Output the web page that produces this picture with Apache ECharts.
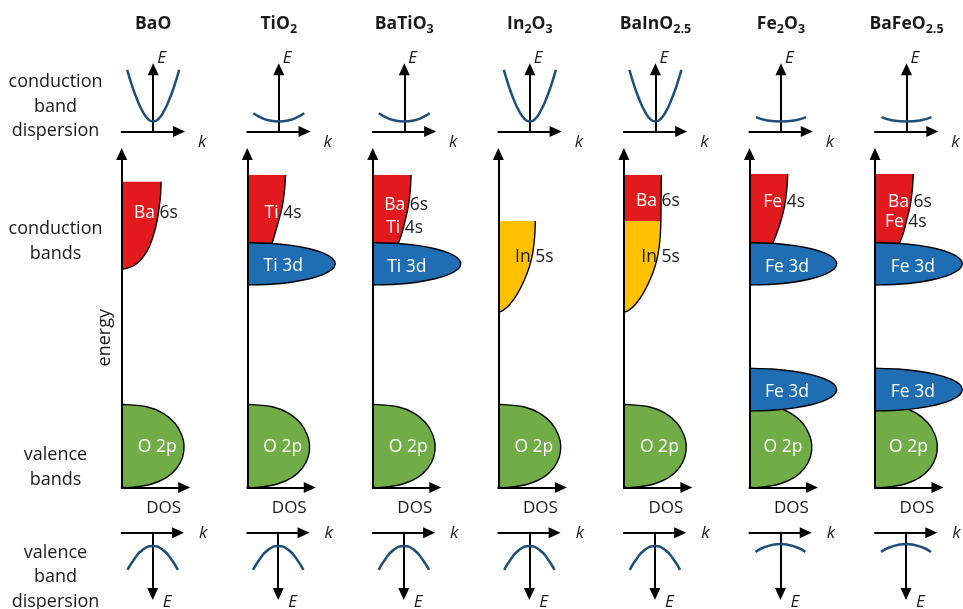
<!DOCTYPE html>
<html>
<head>
<meta charset="utf-8">
<script src="https://cdn.jsdelivr.net/npm/echarts@6/dist/echarts.min.js"></script>
<style>
html,body{margin:0;padding:0;background:#ffffff;}
#chart{width:963px;height:609px;}
</style>
</head>
<body>
<div id="chart"></div>
<script>
// ---------------- data ----------------
const compounds = ['BaO', 'TiO_{2}', 'BaTiO_{3}', 'In_{2}O_{3}', 'BaInO_{2.5}', 'Fe_{2}O_{3}', 'BaFeO_{2.5}'];
const rowLabels = ['conduction\nband\ndispersion', 'conduction\nbands', 'valence\nbands', 'valence\nband\ndispersion'];

// conduction band dispersion, [k, E]
const cbSteep = [[-1, 2.37], [-0.8, 1.72], [-0.6, 1.18], [-0.4, 0.76], [-0.2, 0.48], [0, 0.38], [0.2, 0.48], [0.4, 0.76], [0.6, 1.18], [0.8, 1.72], [1, 2.37]];
const cbFlat = [[-0.98, 0.70], [-0.7, 0.54], [-0.4, 0.43], [0, 0.38], [0.4, 0.43], [0.7, 0.54], [0.98, 0.70]];
const cbFlatter = [[-0.96, 0.55], [-0.6, 0.44], [0, 0.38], [0.6, 0.44], [0.96, 0.55]];
// valence band dispersion, [k, E] (E axis points downwards)
const vbSteep = [[-0.97, 1.43], [-0.7, 1.0], [-0.4, 0.67], [0, 0.51], [0.4, 0.67], [0.7, 1.0], [0.97, 1.43]];
const vbFlat = [[-0.96, 0.74], [-0.6, 0.55], [0, 0.43], [0.6, 0.55], [0.96, 0.74]];
const cbCurveOf = [cbSteep, cbFlat, cbFlat, cbSteep, cbSteep, cbFlatter, cbFlatter];
const vbCurveOf = [vbSteep, vbSteep, vbSteep, vbSteep, vbSteep, vbFlat, vbFlat];

// density of states outlines, [DOS, energy]
const o2p = [[0, 8.32], [2.5, 8.08], [4.16, 7.42], [5.33, 6.42], [6.0, 5.25], [6.23, 4.25], [6.1, 3.08], [5.5, 1.92], [4.5, 1.02], [3.0, 0.35], [1.16, 0.02], [0, 0]];
const ba6sBaO = [[3.93, 30.58], [3.9, 29.42], [3.76, 28.08], [3.56, 26.75], [3.23, 25.42], [2.76, 24.08], [2.16, 23.08], [1.33, 22.25], [0.5, 21.92], [0, 21.82]];
const ti4s = [[3.83, 31.25], [3.73, 29.75], [3.5, 28.08], [3.16, 26.75], [2.83, 25.58], [2.5, 24.46]];
const baTi4s = [[3.83, 31.25], [3.75, 29.75], [3.55, 28.1], [3.25, 26.75], [2.93, 25.5], [2.57, 24.44]];
const ti3d = [[0, 24.49], [2.28, 24.42], [4.4, 24.21], [6.22, 23.87], [7.62, 23.43], [8.5, 22.92], [8.8, 22.37], [8.5, 21.82], [7.62, 21.31], [6.22, 20.87], [4.4, 20.53], [2.28, 20.32], [0, 20.25]];
const in5s = [[3.7, 26.65], [3.63, 25.08], [3.43, 23.42], [3.1, 22.08], [2.6, 20.75], [1.93, 19.42], [1.1, 18.25], [0.43, 17.68], [0, 17.52]];
const ba6sBaIn = [[3.75, 31.25], [3.73, 29.7], [3.71, 28.2], [3.7, 26.65]];
const fe4s = [[3.83, 31.35], [3.73, 29.75], [3.5, 28.08], [3.17, 26.75], [2.73, 25.42], [2.33, 24.42]];
const baFe4s = [[3.83, 31.35], [3.73, 29.75], [3.5, 28.08], [3.17, 26.75], [2.83, 25.42], [2.43, 24.42]];
const fe3dUp = [[0, 24.49], [2.26, 24.42], [4.37, 24.21], [6.17, 23.87], [7.56, 23.43], [8.43, 22.92], [8.73, 22.37], [8.43, 21.82], [7.56, 21.31], [6.17, 20.87], [4.37, 20.53], [2.26, 20.32], [0, 20.25]];
const fe3dLow = [[0, 11.92], [2.26, 11.85], [4.37, 11.63], [6.17, 11.29], [7.56, 10.85], [8.43, 10.34], [8.73, 9.79], [8.43, 9.23], [7.56, 8.72], [6.17, 8.28], [4.37, 7.94], [2.26, 7.72], [0, 7.65]];

// bands drawn in each column (in drawing order) and their kind
const columnBands = [
  [[o2p, 'p'], [ba6sBaO, 's']],
  [[o2p, 'p'], [ti4s, 's'], [ti3d, 'd']],
  [[o2p, 'p'], [baTi4s, 's'], [ti3d, 'd']],
  [[o2p, 'p'], [in5s, 'in']],
  [[o2p, 'p'], [ba6sBaIn, 's'], [in5s, 'in']],
  [[o2p, 'p'], [fe3dLow, 'd'], [fe4s, 's'], [fe3dUp, 'd']],
  [[o2p, 'p'], [fe3dLow, 'd'], [baFe4s, 's'], [fe3dUp, 'd']]
];
const columnLabels = [
  ['Ba 6s', 'O 2p'],
  ['Ti 4s', 'Ti 3d', 'O 2p'],
  ['Ba 6s', 'Ti 4s', 'Ti 3d', 'O 2p'],
  ['In 5s', 'O 2p'],
  ['Ba 6s', 'In 5s', 'O 2p'],
  ['Fe 4s', 'Fe 3d', 'Fe 3d', 'O 2p'],
  ['Ba 6s', 'Fe 4s', 'Fe 3d', 'Fe 3d', 'O 2p']
];

// ---------------- layout & style ----------------
const L = {
  x0: 121.7, step: 125.55, font: 'Open Sans', ink: '#1a1a1a',
  arrow: [11, 12], axisW: 2,
  top: {top: 69.3, width: 57.3, height: 62.2, kMin: -1.2115, kMax: 0.9923, eMax: 2.392, dx: 31.5},
  bot: {top: 532.7, width: 56.3, height: 61.3, kMin: -1.1923, kMax: 0.9731, eMax: 2.358},
  dos: {top: 154, width: 62.5, height: 333.5, xMax: 6.25, yMax: 33.35},
  titleY: 24.5, rowX: 55.5, rowY: [106.7, 241.3, 467.2, 577],
  labelPos: [
    [[3.43, 27.45], [3.55, 4.08]],
    [[3.58, 27.4], [3.6, 22.15], [3.55, 4.08]],
    [[3.33, 28.25], [3.18, 25.92], [3.4, 22.08], [3.55, 4.08]],
    [[3.6, 23.02], [3.55, 4.08]],
    [[3.4, 28.65], [3.67, 23.02], [3.55, 4.08]],
    [[3.47, 28.58], [3.75, 22.08], [3.75, 9.52], [3.35, 4.02]],
    [[3.5, 28.58], [3.08, 26.58], [3.78, 22.08], [3.78, 9.52], [3.35, 4.02]]
  ]
};
const COLORS = {s: '#E2191D', d: '#1F6DB3', p: '#70AD47', in: '#FFC000', disp: '#1F4E79', outline: '#000000'};

function toRich(name) {
  return name.split(/(_\{[^}]*\})/).filter(Boolean).map(function (p) {
    const m = p.match(/^_\{([^}]*)\}$/);
    return m ? '{s|' + m[1] + '}' : '{b|' + p + '}';
  }).join('');
}
function labelRich(t) {
  if (/^(Ba|Ti|Fe) [46]s$/.test(t)) { const a = t.split(' '); return '{w|' + a[0] + '} {k|' + a[1] + '}'; }
  if (/5s$/.test(t)) return '{k|' + t + '}';
  return '{w|' + t + '}';
}
function axisLineCfg(sym, onZero) {
  return {show: true, onZero: onZero, symbol: sym, symbolSize: L.arrow, lineStyle: {color: '#000', width: L.axisW}};
}
function valueAxis(gridIndex, min, max, extra) {
  return Object.assign({type: 'value', gridIndex: gridIndex, min: min, max: max,
    axisTick: {show: false}, axisLabel: {show: false}, splitLine: {show: false}}, extra);
}
function nameStyle(extra) {
  return Object.assign({fontFamily: L.font, fontSize: 17, color: L.ink}, extra);
}
// smooth (Catmull-Rom style) path through projected outline points
function smoothPath(pts) {
  let d = 'M' + pts[0][0] + ' ' + pts[0][1];
  for (let i = 0; i < pts.length - 1; i++) {
    const p0 = pts[i - 1] || pts[i], p1 = pts[i], p2 = pts[i + 1], p3 = pts[i + 2] || pts[i + 1];
    const c1x = p1[0] + (p2[0] - p0[0]) / 6, c1y = p1[1] + (p2[1] - p0[1]) / 6;
    const c2x = p2[0] - (p3[0] - p1[0]) / 6, c2y = p2[1] - (p3[1] - p1[1]) / 6;
    d += ' C' + c1x + ' ' + c1y + ' ' + c2x + ' ' + c2y + ' ' + p2[0] + ' ' + p2[1];
  }
  return d;
}
function bandRenderer(fill) {
  return function (params, api) {
    if (params.dataIndexInside !== 0) return null;
    const n = params.dataInsideLength;
    const curve = [];
    for (let j = 0; j < n; j++) curve.push(api.coord([api.value(0, j), api.value(1, j)]));
    const a = api.coord([0, api.value(1, n - 1)]), b = api.coord([0, api.value(1, 0)]);
    const edge = smoothPath(curve);
    const area = edge + ' L' + a[0] + ' ' + a[1] + ' L' + b[0] + ' ' + b[1] + ' Z';
    return {type: 'group', children: [
      {type: 'path', shape: {pathData: area}, style: {fill: fill, stroke: 'none'}},
      {type: 'path', shape: {pathData: edge}, style: {fill: 'none', stroke: COLORS.outline, lineWidth: 1.4}}
    ]};
  };
}
function labelRenderer(texts) {
  return function (params, api) {
    const p = api.coord([api.value(0), api.value(1)]);
    return {type: 'text', x: p[0], y: p[1], z2: 10, style: {
      text: labelRich(texts[params.dataIndex]), align: 'center', verticalAlign: 'middle',
      fontFamily: L.font, fontSize: 17.5, fill: '#ffffff',
      rich: {
        w: {fill: '#ffffff', fontFamily: L.font, fontSize: 17.5},
        k: {fill: L.ink, fontFamily: L.font, fontSize: 17.5}
      }
    }};
  };
}

const option = {animation: false, backgroundColor: '#ffffff', textStyle: {fontFamily: L.font},
  title: [], grid: [], xAxis: [], yAxis: [], series: []};

rowLabels.forEach(function (t, j) {
  option.title.push({text: t, left: L.rowX, top: L.rowY[j], textAlign: 'center', textVerticalAlign: 'middle', padding: 0,
    textStyle: {fontFamily: L.font, fontSize: 18, fontWeight: 'normal', color: L.ink, lineHeight: 24.5}});
});

compounds.forEach(function (name, i) {
  const cx = L.x0 + L.step * i;
  const g = i * 3;
  option.title.push({text: toRich(name), left: cx + L.top.dx, top: L.titleY, textAlign: 'center', textVerticalAlign: 'middle', padding: 0,
    textStyle: {rich: {
      b: {fontFamily: L.font, fontSize: 17.5, fontWeight: 'bold', color: L.ink},
      s: {fontFamily: L.font, fontSize: 12.5, fontWeight: 'bold', color: L.ink, padding: [10, 0, 0, 0]}
    }}});

  // conduction band dispersion
  option.grid.push({left: cx, top: L.top.top, width: L.top.width, height: L.top.height, containLabel: false, outerBoundsMode: 'none'});
  option.xAxis.push(valueAxis(g, L.top.kMin, L.top.kMax, {axisLine: axisLineCfg(['none', 'triangle'], true),
    name: 'k', nameLocation: 'end', nameGap: 19,
    nameTextStyle: nameStyle({fontStyle: 'italic', align: 'left', verticalAlign: 'top', padding: [2, 0, 0, 0]})}));
  option.yAxis.push(valueAxis(g, 0, L.top.eMax, {axisLine: axisLineCfg(['none', 'triangle'], true),
    name: 'E', nameLocation: 'end', nameGap: 11,
    nameTextStyle: nameStyle({fontStyle: 'italic', align: 'left', verticalAlign: 'middle', padding: [0, 0, 0, 4]})}));

  // density of states
  option.grid.push({left: cx, top: L.dos.top, width: L.dos.width, height: L.dos.height, containLabel: false, outerBoundsMode: 'none'});
  option.xAxis.push(valueAxis(g + 1, 0, L.dos.xMax, {z: 5, axisLine: axisLineCfg(['none', 'triangle'], false),
    name: 'DOS', nameLocation: 'end', nameGap: -20.5,
    nameTextStyle: nameStyle({align: 'center', verticalAlign: 'top', padding: [12, 0, 0, 0]})}));
  option.yAxis.push(valueAxis(g + 1, 0, L.dos.yMax, {z: 5, axisLine: axisLineCfg(['none', 'triangle'], false),
    name: i === 0 ? 'energy' : '', nameLocation: 'middle', nameGap: 8,
    nameTextStyle: nameStyle({fontSize: 18, padding: [0, 34, 0, 0]})}));

  // valence band dispersion
  option.grid.push({left: cx, top: L.bot.top, width: L.bot.width, height: L.bot.height, containLabel: false, outerBoundsMode: 'none'});
  option.xAxis.push(valueAxis(g + 2, L.bot.kMin, L.bot.kMax, {axisLine: axisLineCfg(['none', 'triangle'], true),
    name: 'k', nameLocation: 'end', nameGap: 21,
    nameTextStyle: nameStyle({fontStyle: 'italic', align: 'left', verticalAlign: 'middle', padding: [5, 0, 0, 0]})}));
  option.yAxis.push(valueAxis(g + 2, 0, L.bot.eMax, {inverse: true, axisLine: axisLineCfg(['triangle', 'none'], true),
    name: 'E', nameLocation: 'end', nameGap: 8,
    nameTextStyle: nameStyle({fontStyle: 'italic', align: 'left', verticalAlign: 'middle', padding: [0, 0, 0, 10]})}));

  option.series.push({type: 'line', xAxisIndex: g, yAxisIndex: g, data: cbCurveOf[i], smooth: true,
    symbol: 'none', showSymbol: false, clip: false, z: 3, lineStyle: {color: COLORS.disp, width: 2.5}});
  option.series.push({type: 'line', xAxisIndex: g + 2, yAxisIndex: g + 2, data: vbCurveOf[i], smooth: true,
    symbol: 'none', showSymbol: false, clip: false, z: 3, lineStyle: {color: COLORS.disp, width: 2.5}});

  columnBands[i].forEach(function (b) {
    option.series.push({type: 'custom', xAxisIndex: g + 1, yAxisIndex: g + 1, data: b[0], encode: {x: 0, y: 1},
      clip: false, z: 2, renderItem: bandRenderer(COLORS[b[1]])});
  });
  option.series.push({type: 'custom', xAxisIndex: g + 1, yAxisIndex: g + 1, data: L.labelPos[i], encode: {x: 0, y: 1},
    clip: false, z: 6, renderItem: labelRenderer(columnLabels[i])});
});

const chart = echarts.init(document.getElementById('chart'), null, {renderer: 'canvas'});
chart.setOption(option);
</script>
</body>
</html>
